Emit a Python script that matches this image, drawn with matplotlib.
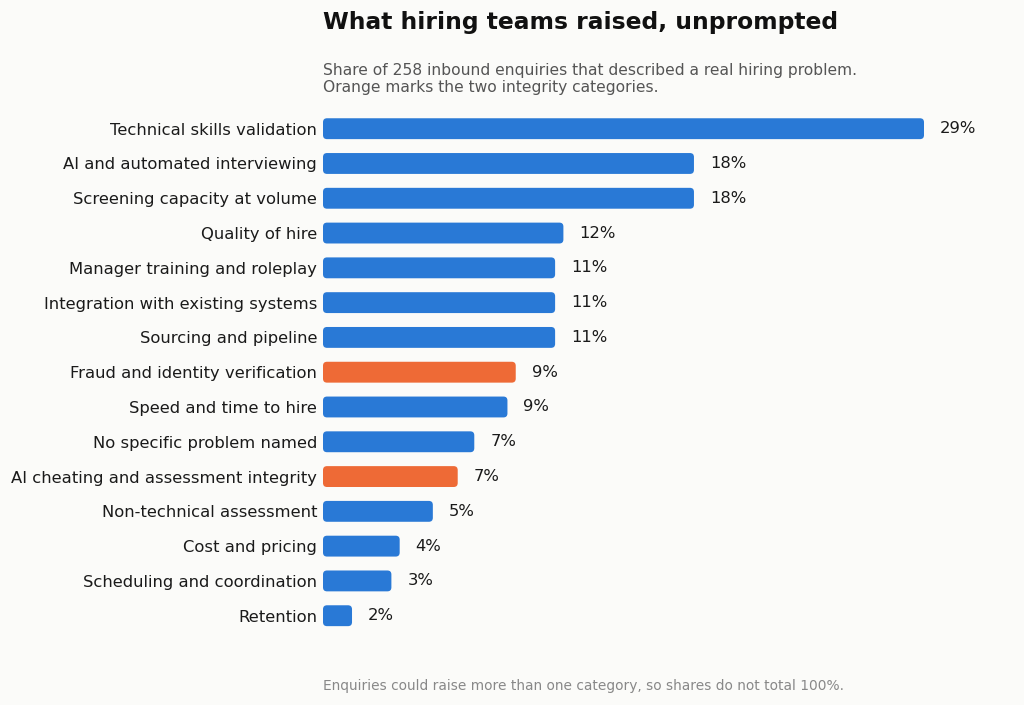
import matplotlib
matplotlib.use("Agg")
import matplotlib.pyplot as plt
from matplotlib.patches import FancyBboxPatch

categories = [
    "Technical skills validation",
    "AI and automated interviewing",
    "Screening capacity at volume",
    "Quality of hire",
    "Manager training and roleplay",
    "Integration with existing systems",
    "Sourcing and pipeline",
    "Fraud and identity verification",
    "Speed and time to hire",
    "No specific problem named",
    "AI cheating and assessment integrity",
    "Non-technical assessment",
    "Cost and pricing",
    "Scheduling and coordination",
    "Retention",
]
shares = [29.0, 17.9, 17.9, 11.6, 11.2, 11.2, 11.2, 9.3, 8.9, 7.3, 6.5, 5.3, 3.7, 3.3, 1.4]
share_labels = ["29%", "18%", "18%", "12%", "11%", "11%", "11%", "9%", "9%", "7%",
                "7%", "5%", "4%", "3%", "2%"]
integrity = ["Fraud and identity verification", "AI cheating and assessment integrity"]

BLUE = "#2979d6"
ORANGE = "#ee6a36"
BG = "#fbfbf9"

W, H = 1024, 705
fig = plt.figure(figsize=(W / 100, H / 100), dpi=100, facecolor=BG)
left_px, right_px = 323, 990
top_px, bot_px = 111.3, 633.1
ax = fig.add_axes([left_px / W, 1 - bot_px / H, (right_px - left_px) / W, (bot_px - top_px) / H])
ax.set_facecolor(BG)

xmax = 29.0 * (right_px - left_px) / 601.0
n = len(categories)
ax.set_xlim(0, xmax)
ax.set_ylim(n - 0.5, -0.5)

x_per_px = xmax / (right_px - left_px)
y_per_px = n / (bot_px - top_px)
aspect = y_per_px / x_per_px
bar_h = 0.6
radius_px = 4
for i, (cat, v) in enumerate(zip(categories, shares)):
    col = ORANGE if cat in integrity else BLUE
    r = min(radius_px * x_per_px, v / 2)
    p = FancyBboxPatch((0, i - bar_h / 2), v, bar_h,
                       boxstyle=f"round,pad=0,rounding_size={r}",
                       mutation_aspect=aspect, facecolor=col, edgecolor="none")
    ax.add_patch(p)
    ax.annotate(share_labels[i], xy=(v, i), xytext=(11.5, 0), textcoords="offset points",
                va="center", ha="left", fontsize=11.8, color="#1a1a1a")

ax.set_yticks(range(n))
ax.set_yticklabels(categories, fontsize=11.8, color="#1a1a1a")
ax.tick_params(axis="y", length=0, pad=4.3)
ax.set_xticks([])
for s in ax.spines.values():
    s.set_visible(False)

fig.text(323 / W, 1 - 22 / H, "What hiring teams raised, unprompted", fontsize=16.8,
         fontweight="bold", color="#111111", ha="left", va="center")
fig.text(323 / W, 1 - 62.5 / H,
         "Share of 258 inbound enquiries that described a real hiring problem.\nOrange marks the two integrity categories.",
         fontsize=11.2, color="#555555", ha="left", va="top", linespacing=1.2)
fig.text(323 / W, 1 - 686 / H, "Enquiries could raise more than one category, so shares do not total 100%.",
         fontsize=9.9, color="#888888", ha="left", va="center")

fig.savefig("out.png", dpi=100, facecolor=BG)
